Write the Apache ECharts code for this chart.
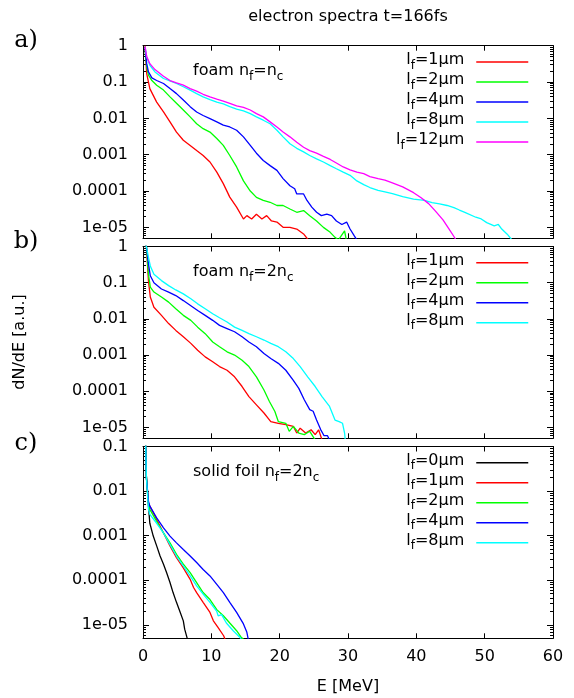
<!DOCTYPE html>
<html><head><meta charset="utf-8">
<script src="https://cdn.jsdelivr.net/npm/echarts@6/dist/echarts.min.js"></script>
<style>html,body{margin:0;padding:0;background:#fff}#c{width:574px;height:698px}</style>
</head><body><div id="c"></div>
<script>
// ---------------- data ----------------
const xTicks = [0, 10, 20, 30, 40, 50, 60];
const yMajorExp = [0, -1, -2, -3, -4, -5];
const yMajorLabels = ['1', '0.1', '0.01', '0.001', '0.0001', '1e-05'];
const Y_MIN = 5e-6;

const panelTitles = ['foam n_f=n_c', 'foam n_f=2n_c', 'solid foil n_f=2n_c'];
const panelLetters = ['a)', 'b)', 'c)'];
const namesA = ['lf=1μm', 'lf=2μm', 'lf=4μm', 'lf=8μm', 'lf=12μm'];
const namesB = ['lf=1μm', 'lf=2μm', 'lf=4μm', 'lf=8μm'];
const namesC = ['lf=0μm', 'lf=1μm', 'lf=2μm', 'lf=4μm', 'lf=8μm'];

// panel a : foam nf = nc   [E (MeV), dN/dE]
const a_lf1 = [[0.3,1.0],[0.54,0.17],[1.0,0.066],[1.5,0.043],[2.0,0.028],[3.0,0.015],[3.95,0.008],[4.9,0.0042],[5.9,0.0025],[6.9,0.0018],[7.85,0.0013],[8.8,0.00095],[9.8,0.00063],[10.8,0.00033],[11.75,0.00016],[12.7,6.8e-5],[13.7,3.6e-5],[14.7,1.7e-5],[15.2,2.1e-5],[15.9,1.7e-5],[16.6,2.3e-5],[17.4,1.7e-5],[18.1,2.1e-5],[18.8,1.5e-5],[19.6,1.4e-5],[20.5,1.0e-5],[21.5,1.0e-5],[22.5,9e-6],[23.5,6.6e-6],[24.2,4.5e-6]];
const a_lf2 = [[0.3,0.76],[0.54,0.26],[0.8,0.155],[1.3,0.11],[2.0,0.082],[3.0,0.06],[3.95,0.039],[4.9,0.026],[5.9,0.017],[6.9,0.011],[7.85,0.0071],[8.8,0.0052],[9.8,0.0042],[10.8,0.0028],[11.75,0.0018],[12.7,0.00095],[13.7,0.00046],[14.7,0.00019],[15.7,0.0001],[16.6,6.7e-5],[17.6,5.5e-5],[18.6,4.9e-5],[19.6,4.0e-5],[20.5,4.0e-5],[21.5,3.2e-5],[22.5,2.6e-5],[23.5,2.9e-5],[24.4,2.1e-5],[25.4,1.5e-5],[26.4,1.0e-5],[27.4,7.3e-6],[28.1,5.3e-6],[28.6,4.5e-6],[29.5,8e-6],[29.8,4e-6]];
const a_lf4 = [[0.3,0.85],[0.54,0.32],[0.8,0.19],[1.3,0.13],[2.0,0.11],[3.0,0.091],[3.95,0.066],[4.9,0.048],[5.9,0.032],[6.9,0.021],[7.85,0.015],[8.8,0.012],[9.8,0.0098],[10.8,0.008],[11.75,0.0065],[12.7,0.0058],[13.7,0.0047],[14.7,0.0031],[15.7,0.0018],[16.6,0.0011],[17.6,0.00069],[18.6,0.0005],[19.6,0.00037],[20.5,0.00022],[21.5,0.00014],[22.2,0.000115],[22.5,8.3e-5],[23.5,8.3e-5],[24.0,5.5e-5],[24.7,3.6e-5],[25.4,2.6e-5],[26.1,2.1e-5],[26.9,2.3e-5],[27.6,2.1e-5],[28.3,1.5e-5],[29.1,1.2e-5],[29.8,1.4e-5],[30.3,9e-6],[30.9,5.9e-6],[31.3,4.5e-6]];
const a_lf8 = [[0.3,0.94],[0.54,0.5],[1.0,0.29],[1.75,0.19],[3.0,0.125],[3.95,0.108],[4.9,0.091],[5.9,0.074],[6.9,0.06],[7.85,0.048],[8.8,0.039],[9.8,0.033],[10.8,0.028],[11.75,0.025],[12.7,0.021],[13.7,0.018],[14.7,0.016],[15.7,0.0135],[16.6,0.011],[17.6,0.0089],[18.6,0.0071],[19.6,0.0047],[20.5,0.0031],[21.5,0.002],[22.5,0.0015],[23.5,0.0012],[24.4,0.00095],[25.4,0.00077],[26.4,0.00063],[27.4,0.0005],[28.3,0.00041],[29.3,0.00033],[30.3,0.00027],[31.3,0.00019],[32.3,0.00015],[33.2,0.000125],[34.4,0.000105],[35.4,9.5e-5],[36.5,8.5e-5],[38.0,7e-5],[39.6,6e-5],[41.2,5.5e-5],[42.3,4.8e-5],[43.4,4.4e-5],[44.5,4.0e-5],[45.5,3.5e-5],[46.3,3.0e-5],[47.1,2.6e-5],[48.7,1.9e-5],[49.5,1.7e-5],[50.3,1.35e-5],[51.4,1.1e-5],[52.0,1.2e-5],[52.5,9e-6],[53.3,6.5e-6],[54.0,4.5e-6]];
const a_lf12 = [[0.3,0.94],[0.54,0.5],[1.0,0.32],[1.75,0.22],[3.0,0.145],[3.95,0.11],[4.9,0.095],[5.9,0.082],[6.9,0.066],[7.85,0.056],[8.8,0.046],[9.8,0.039],[10.8,0.034],[11.75,0.03],[12.7,0.026],[13.7,0.022],[14.7,0.02],[15.7,0.017],[16.6,0.0135],[17.6,0.011],[18.6,0.008],[19.6,0.0058],[20.5,0.0042],[21.5,0.0031],[22.5,0.0022],[23.5,0.0016],[24.4,0.0013],[25.4,0.0011],[26.4,0.0009],[27.4,0.00074],[28.3,0.00059],[29.3,0.00046],[30.3,0.00038],[31.3,0.00033],[32.3,0.0003],[33.2,0.00025],[34.4,0.00022],[35.4,0.0002],[36.4,0.00017],[38.0,0.00013],[39.6,9e-5],[40.7,6.5e-5],[41.8,4.5e-5],[42.8,2.8e-5],[43.9,1.6e-5],[44.7,9.5e-6],[45.5,5.6e-6],[45.8,4.5e-6]];

// panel b : foam nf = 2nc
const b_lf1 = [[0.3,1.2],[0.5,1.0],[0.8,0.11],[1.07,0.04],[1.6,0.021],[2.7,0.0125],[3.75,0.0074],[4.8,0.0048],[5.9,0.0032],[7.0,0.0021],[8.0,0.00135],[9.1,0.00089],[10.2,0.00065],[11.2,0.00048],[12.3,0.00038],[13.4,0.00025],[14.5,0.000135],[15.5,7.1e-5],[16.6,4.2e-5],[17.7,2.5e-5],[18.7,1.45e-5],[19.8,1.3e-5],[20.9,1.2e-5],[22.0,1.07e-5],[22.5,7e-6],[23.0,9.5e-6],[23.8,7e-6],[24.6,8.6e-6],[25.2,6.3e-6],[25.7,8.6e-6],[26.2,4.5e-6]];
const b_lf2 = [[0.3,1.2],[0.5,1.0],[0.8,0.17],[1.07,0.075],[1.6,0.055],[2.7,0.04],[3.75,0.029],[4.8,0.019],[5.9,0.0125],[7.0,0.0091],[8.0,0.0059],[9.1,0.0039],[10.2,0.0023],[11.2,0.0017],[12.3,0.00123],[13.4,0.001],[14.5,0.00072],[15.5,0.00048],[16.6,0.00025],[17.7,0.000108],[18.5,5.2e-5],[19.3,2.75e-5],[19.8,1.45e-5],[20.9,1.3e-5],[21.4,7.8e-6],[22.0,1.07e-5],[22.8,7e-6],[23.6,6.3e-6],[24.4,7.8e-6],[25.2,4.5e-6]];
const b_lf4 = [[0.3,1.2],[0.5,1.0],[0.8,0.33],[1.07,0.155],[1.6,0.1],[2.7,0.067],[3.75,0.055],[4.8,0.044],[5.9,0.032],[7.0,0.023],[8.0,0.017],[9.1,0.0125],[10.2,0.0091],[11.2,0.0066],[12.3,0.0054],[13.4,0.0044],[14.5,0.0032],[15.5,0.0023],[16.6,0.0017],[17.7,0.0011],[18.7,0.0008],[19.8,0.00059],[20.9,0.00038],[22.0,0.0002],[22.8,0.00012],[23.6,5.8e-5],[24.4,3.1e-5],[24.9,2.8e-5],[25.4,1.6e-5],[26.0,8.7e-6],[26.5,5.9e-6],[27.0,5.9e-6],[27.3,4.5e-6]];
const b_lf8 = [[0.3,1.2],[0.5,1.0],[0.8,0.5],[1.07,0.29],[1.6,0.17],[2.7,0.114],[3.75,0.083],[4.8,0.063],[5.9,0.049],[7.0,0.036],[8.0,0.026],[9.1,0.019],[10.2,0.0138],[11.2,0.0107],[12.3,0.0082],[13.4,0.0059],[14.5,0.0048],[15.5,0.0039],[16.6,0.0032],[17.7,0.0026],[18.7,0.0021],[19.8,0.0017],[20.9,0.00123],[22.0,0.0008],[23.0,0.00048],[24.1,0.00025],[25.2,0.000135],[26.2,7.1e-5],[27.3,3.8e-5],[28.1,1.6e-5],[28.7,1.45e-5],[29.2,1.3e-5],[29.5,7e-6],[29.6,4.5e-6]];

// panel c : solid foil nf = 2nc
const c_lf0 = [[0.3,0.5],[0.5,0.02],[0.8,0.0046],[1.0,0.0019],[1.5,0.00098],[2.0,0.00059],[2.5,0.00035],[3.0,0.00023],[3.46,0.000148],[3.95,8.9e-5],[4.4,5.3e-5],[4.9,3.2e-5],[5.4,2.0e-5],[5.9,1.23e-5],[6.1,8e-6],[6.5,4.8e-6]];
const c_lf1 = [[0.3,0.5],[0.5,0.02],[0.8,0.0054],[1.0,0.0046],[2.0,0.0023],[3.0,0.00115],[3.95,0.00059],[4.9,0.00032],[5.9,0.00019],[6.9,0.000105],[7.4,6.9e-5],[7.85,5.3e-5],[8.8,3.2e-5],[9.8,1.9e-5],[10.3,1.23e-5],[11.0,8.7e-6],[11.8,5.7e-6],[12.0,4.8e-6]];
const c_lf2 = [[0.3,0.5],[0.5,0.02],[0.8,0.0054],[1.0,0.0039],[2.0,0.0021],[3.0,0.00115],[3.95,0.00069],[4.9,0.00038],[5.9,0.00023],[6.9,0.000148],[7.85,8.9e-5],[8.8,5.3e-5],[9.8,3.7e-5],[10.8,2.2e-5],[11.76,1.6e-5],[12.7,1.1e-5],[13.7,7.4e-6],[14.4,5.2e-6],[14.7,4.8e-6]];
const c_lf4 = [[0.3,0.5],[0.5,0.02],[0.8,0.0059],[1.0,0.0046],[2.0,0.0025],[3.0,0.0015],[3.95,0.00098],[4.9,0.00069],[5.9,0.00049],[6.9,0.00035],[7.85,0.00025],[8.8,0.000175],[9.8,0.000125],[10.8,8.1e-5],[11.76,5.3e-5],[12.7,3.2e-5],[13.7,1.9e-5],[14.7,1.05e-5],[15.2,6.8e-6],[15.4,4.8e-6]];
const c_lf8 = [[0.3,0.5],[0.5,0.02],[0.8,0.0039],[1.0,0.003],[2.0,0.0019],[3.0,0.00115],[3.95,0.00063],[4.9,0.00035],[5.9,0.00021],[6.9,0.000125],[7.85,7.5e-5],[8.8,4.9e-5],[9.8,3.2e-5],[10.8,2.0e-5],[11.0,1.6e-5],[11.5,1.7e-5],[12.2,1.1e-5],[13.2,7.4e-6],[14.2,5.2e-6],[14.4,4.8e-6]];

// ---------------- styling / layout ----------------
const FONT = 'DejaVu Sans';
const colors = {'lf=0μm':'#000000','lf=1μm':'#ff0000','lf=2μm':'#00ff00','lf=4μm':'#0000ff','lf=8μm':'#00ffff','lf=12μm':'#ff00ff'};
const panels = [
  {top: 45.7, height: 192.6, yMax: 1,   names: namesA, data: [a_lf1, a_lf2, a_lf4, a_lf8, a_lf12]},
  {top: 246.5, height: 191.8, yMax: 1,   names: namesB, data: [b_lf1, b_lf2, b_lf4, b_lf8]},
  {top: 446.5, height: 191.8, yMax: 0.1, names: namesC, data: [c_lf0, c_lf1, c_lf2, c_lf4, c_lf8]}
];
const GL = 143, GW = 410;

const rich = {
  t: {fontFamily: FONT, fontSize: 16, color: '#000', lineHeight: 15, padding: [0,0,4,0]},
  s: {fontFamily: FONT, fontSize: 12, color: '#000', lineHeight: 12, padding: [7,0,0,0]}
};
function toRich(str) {
  // "a_b" -> subscript for the single char after underscore
  let out = '', buf = '';
  for (let i = 0; i < str.length; i++) {
    if (str[i] === '_') {
      if (buf) { out += '{t|' + buf + '}'; buf = ''; }
      out += '{s|' + str[i+1] + '}'; i++;
    } else buf += str[i];
  }
  if (buf) out += '{t|' + buf + '}';
  return out;
}
function legendRich(name) { return toRich('l_' + name.slice(1)); }

const grid = [], xAxis = [], yAxis = [], series = [], legend = [];
panels.forEach((p, g) => {
  grid.push({left: GL, width: GW, top: p.top, height: p.height, outerBoundsMode: 'none', containLabel: false});
  const lmin = Math.log10(Y_MIN), lmax = Math.log10(p.yMax);
  const majors = yMajorExp.filter(v => v <= lmax + 1e-9 && v >= lmin);
  const minors = [];
  for (let d = -6; d < 1; d++) for (let k = 2; k <= 9; k++) {
    const v = d + Math.log10(k);
    if (v > lmin && v < lmax) minors.push(v);
  }
  const xBase = {gridIndex: g, type: 'value', min: xTicks[0], max: xTicks[xTicks.length-1], interval: 10,
    splitLine: {show: false},
    axisLine: {show: true, onZero: false, lineStyle: {color: '#000', width: 1}},
    axisTick: {show: true, inside: true, length: 5, lineStyle: {color: '#000', width: 1}}};
  xAxis.push(Object.assign({}, xBase, {position: 'bottom',
    axisLabel: {show: g === 2, color: '#000', fontFamily: FONT, fontSize: 16, margin: 11}}));
  xAxis.push(Object.assign({}, xBase, {position: 'top', axisLabel: {show: false}}));
  // data axis (log)
  yAxis.push({gridIndex: g, type: 'log', min: Y_MIN, max: p.yMax, position: 'left',
    axisLine: {show: true, onZero: false, lineStyle: {color: '#000', width: 1}},
    axisTick: {show: false}, axisLabel: {show: false}, splitLine: {show: false}, minorTick: {show: false}});
  const tickAxis = (pos, vals, len, labels, line) => ({
    gridIndex: g, type: 'value', min: lmin, max: lmax, position: pos,
    axisLine: {show: line, onZero: false, lineStyle: {color: '#000', width: 1}},
    splitLine: {show: false},
    axisTick: {show: true, inside: true, length: len, customValues: vals, lineStyle: {color: '#000', width: 1}},
    axisLabel: labels ? {show: true, customValues: majors, margin: 15, color: '#000', fontFamily: FONT, fontSize: 16,
      formatter: v => { const i = yMajorExp.findIndex(e => Math.abs(e - v) < 1e-6); return i >= 0 ? yMajorLabels[i] : ''; }}
      : {show: false}
  });
  yAxis.push(tickAxis('left', majors, 6, true, false));
  yAxis.push(tickAxis('left', minors, 3, false, false));
  yAxis.push(tickAxis('right', majors, 6, false, true));
  yAxis.push(tickAxis('right', minors, 3, false, false));

  p.names.forEach((n, i) => {
    series.push({type: 'line', name: n, data: p.data[i], xAxisIndex: 2*g, yAxisIndex: 5*g,
      symbol: 'none', showSymbol: false, clip: true, silent: true, animation: false,
      color: colors[n], itemStyle: {color: colors[n]}, lineStyle: {color: colors[n], width: 1.3},
      emphasis: {disabled: true}});
  });
  legend.push({orient: 'vertical', right: 45, top: p.top + 6.3, itemWidth: 52, itemHeight: 19.3, itemGap: 0,
    align: 'right', padding: 0, selectedMode: false, data: p.names,
    itemStyle: {opacity: 0, borderWidth: 0},
    lineStyle: {width: 1.5},
    formatter: legendRich,
    textStyle: {width: 72, padding: [0, 7, 0, 0], fontFamily: FONT, fontSize: 16, color: '#000', rich: rich}});
});

const graphic = [
  {type: 'text', x: GL + GW/2, y: 17, style: {text: 'electron spectra t=166fs', fontFamily: FONT, fontSize: 16, fill: '#000', align: 'center', verticalAlign: 'middle'}},
  {type: 'text', x: GL + GW/2, y: 687, style: {text: 'E [MeV]', fontFamily: FONT, fontSize: 16, fill: '#000', align: 'center', verticalAlign: 'middle'}},
  {type: 'text', x: 20, y: 342, rotation: Math.PI/2, style: {text: 'dN/dE [a.u.]', fontFamily: FONT, fontSize: 16, fill: '#000', align: 'center', verticalAlign: 'middle'}}
];
const letterY = [40.5, 242, 444];
panels.forEach((p, g) => {
  graphic.push({type: 'text', x: 26, y: letterY[g], style: {text: panelLetters[g], fontFamily: 'DejaVu Serif', fontSize: 24, fill: '#000', align: 'center', verticalAlign: 'middle'}});
  graphic.push({type: 'text', x: 193, y: p.top + 27.5, style: {text: toRich(panelTitles[g]), rich: rich, fontFamily: FONT, fontSize: 16, fill: '#000', align: 'left', verticalAlign: 'middle'}});
});

const chart = echarts.init(document.getElementById('c'), null, {renderer: 'canvas'});
chart.setOption({animation: false, backgroundColor: '#fff', grid, xAxis, yAxis, series, legend, graphic});
</script></body></html>
